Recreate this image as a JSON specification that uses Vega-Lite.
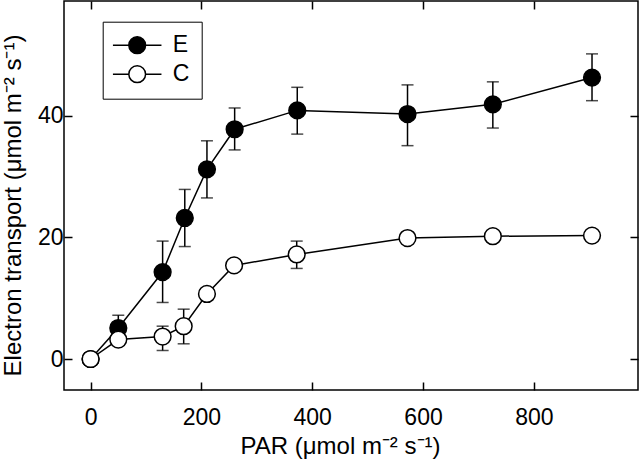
{
  "$schema": "https://vega.github.io/schema/vega-lite/v6.json",
  "width": 574,
  "height": 389,
  "autosize": {"type": "none"},
  "padding": {"left": 64, "top": 1, "right": 2, "bottom": 72},
  "background": "white",
  "config": {
    "view": {"stroke": "black", "strokeWidth": 1.5},
    "font": "Liberation Sans",
    "axis": {"grid": false, "domain": false, "tickColor": "black", "tickWidth": 1.5, "tickSize": -8, "labelFont": "Liberation Sans", "titleFont": "Liberation Sans", "labelFontSize": 23, "titleFontSize": 24, "labelColor": "black", "titleColor": "black", "titleFontWeight": "normal"}
  },
  "resolve": {"axis": {"x": "independent", "y": "independent"}},
  "data": {"values": [
    {"s": "E", "x": 0, "y": 0, "lo": null, "hi": null},
    {"s": "E", "x": 50, "y": 5.1, "lo": 3.0, "hi": 7.2},
    {"s": "E", "x": 130, "y": 14.3, "lo": 9.3, "hi": 19.4},
    {"s": "E", "x": 170, "y": 23.2, "lo": 18.5, "hi": 27.9},
    {"s": "E", "x": 210, "y": 31.2, "lo": 26.5, "hi": 35.9},
    {"s": "E", "x": 260, "y": 37.8, "lo": 34.4, "hi": 41.3},
    {"s": "E", "x": 373, "y": 40.9, "lo": 37.0, "hi": 44.7},
    {"s": "E", "x": 572, "y": 40.3, "lo": 35.1, "hi": 45.1},
    {"s": "E", "x": 726, "y": 41.9, "lo": 38.0, "hi": 45.6},
    {"s": "E", "x": 905, "y": 46.3, "lo": 42.5, "hi": 50.2},
    {"s": "C", "x": 0, "y": 0, "lo": null, "hi": null},
    {"s": "C", "x": 50, "y": 3.2, "lo": null, "hi": null},
    {"s": "C", "x": 130, "y": 3.7, "lo": 1.4, "hi": 5.4},
    {"s": "C", "x": 168, "y": 5.4, "lo": 2.5, "hi": 8.2},
    {"s": "C", "x": 210, "y": 10.7, "lo": null, "hi": null},
    {"s": "C", "x": 259, "y": 15.4, "lo": null, "hi": null},
    {"s": "C", "x": 372, "y": 17.2, "lo": 14.9, "hi": 19.4},
    {"s": "C", "x": 572, "y": 19.9, "lo": null, "hi": null},
    {"s": "C", "x": 726, "y": 20.2, "lo": null, "hi": null},
    {"s": "C", "x": 905, "y": 20.3, "lo": null, "hi": null}
  ]},
  "layer": [
    {
      "transform": [{"filter": "datum.lo != null"}],
      "mark": {"type": "errorbar", "ticks": {"size": 12, "thickness": 1.5, "color": "black"}, "rule": {"strokeWidth": 1.5, "color": "black"}},
      "encoding": {
        "x": {"field": "x", "type": "quantitative", "scale": {"domain": [-48, 988], "nice": false, "zero": false},
          "axis": {"values": [0, 200, 400, 600, 800], "labelPadding": 24, "title": "PAR (μmol m⁻² s⁻¹)", "titleBaseline": "alphabetic", "titleY": 63, "titleX": 276}},
        "y": {"field": "lo", "type": "quantitative", "scale": {"domain": [-5.1, 58.9], "nice": false, "zero": false},
          "axis": {"values": [0, 20, 40], "labelPadding": 9, "title": "Electron transport (μmol m⁻² s⁻¹)", "titleBaseline": "alphabetic", "titleX": -44, "titleY": 204}},
        "y2": {"field": "hi"},
        "detail": {"field": "s"}
      }
    },
    {
      "mark": {"type": "line", "color": "black", "strokeWidth": 1.5},
      "encoding": {
        "x": {"field": "x", "type": "quantitative", "axis": {"orient": "top", "values": [0, 200, 400, 600, 800], "labels": false, "title": null}},
        "y": {"field": "y", "type": "quantitative", "axis": {"orient": "right", "values": [0, 20, 40], "labels": false, "title": null}},
        "detail": {"field": "s"}
      }
    },
    {
      "mark": {"type": "point", "shape": "circle", "filled": true, "size": 280, "stroke": "black", "strokeWidth": 1.5, "opacity": 1},
      "encoding": {
        "x": {"field": "x", "type": "quantitative", "axis": null},
        "y": {"field": "y", "type": "quantitative", "axis": null},
        "fill": {"field": "s", "type": "nominal", "scale": {"domain": ["E", "C"], "range": ["black", "white"]},
          "legend": {"title": null, "orient": "none", "legendX": 38.7, "legendY": 20.7, "strokeColor": "black", "padding": 12,
            "symbolType": "M-2.9,0L-1,0M1,0L2.9,0M-1,0A1,1,0,1,1,1,0A1,1,0,1,1,-1,0Z",
            "symbolSize": 280, "symbolStrokeColor": "black", "symbolStrokeWidth": 1.5, "symbolOpacity": 1, "symbolOffset": 11,
            "labelFontSize": 23, "labelFont": "Liberation Sans", "labelColor": "black", "labelOffset": 24, "rowPadding": 5}},
        "order": {"field": "s", "sort": "descending"}
      }
    }
  ]
}
